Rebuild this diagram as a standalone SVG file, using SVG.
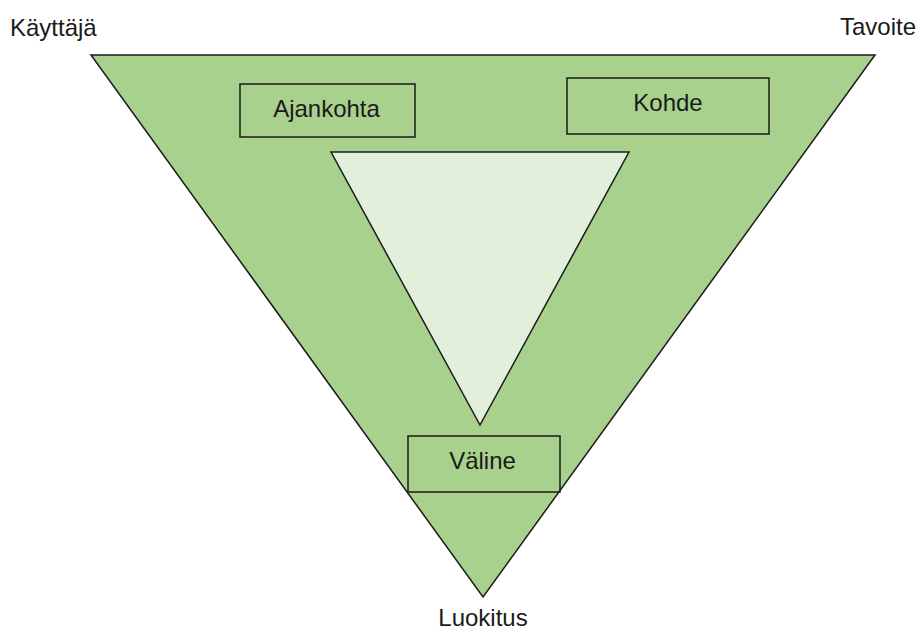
<svg xmlns="http://www.w3.org/2000/svg" width="920" height="632" viewBox="0 0 920 632">
<style>
text{font-family:"Liberation Sans",Arial,sans-serif;font-size:24px;fill:#1a1a1a}
.box{fill:none;stroke:#1a1a1a;stroke-width:1.5}
.tri{stroke:#1a1a1a;stroke-width:1.5;stroke-linejoin:miter}
</style>
<rect width="920" height="632" fill="#fff"/>
<g id="outer"><polygon class="tri" points="91,55 875,55 483,597" fill="#a9d18e"/></g>
<g id="inner"><polygon class="tri" points="331,152 629,152 480,425" fill="#e2efda"/></g>
<g id="ajankohta"><rect class="box" x="240" y="84" width="175" height="53"/><text x="326.5" y="117" text-anchor="middle">Ajankohta</text></g>
<g id="kohde"><rect class="box" x="567" y="78" width="202" height="56"/><text x="668" y="111" text-anchor="middle">Kohde</text></g>
<g id="valine"><rect class="box" x="408" y="436" width="152" height="56"/><text x="482.5" y="469" text-anchor="middle">Väline</text></g>
<g id="kayttaja"><text x="10" y="36">Käyttäjä</text></g>
<g id="tavoite"><text x="916" y="35" text-anchor="end">Tavoite</text></g>
<g id="luokitus"><text x="483" y="626" text-anchor="middle">Luokitus</text></g>
<g id="connectors"></g>
</svg>
